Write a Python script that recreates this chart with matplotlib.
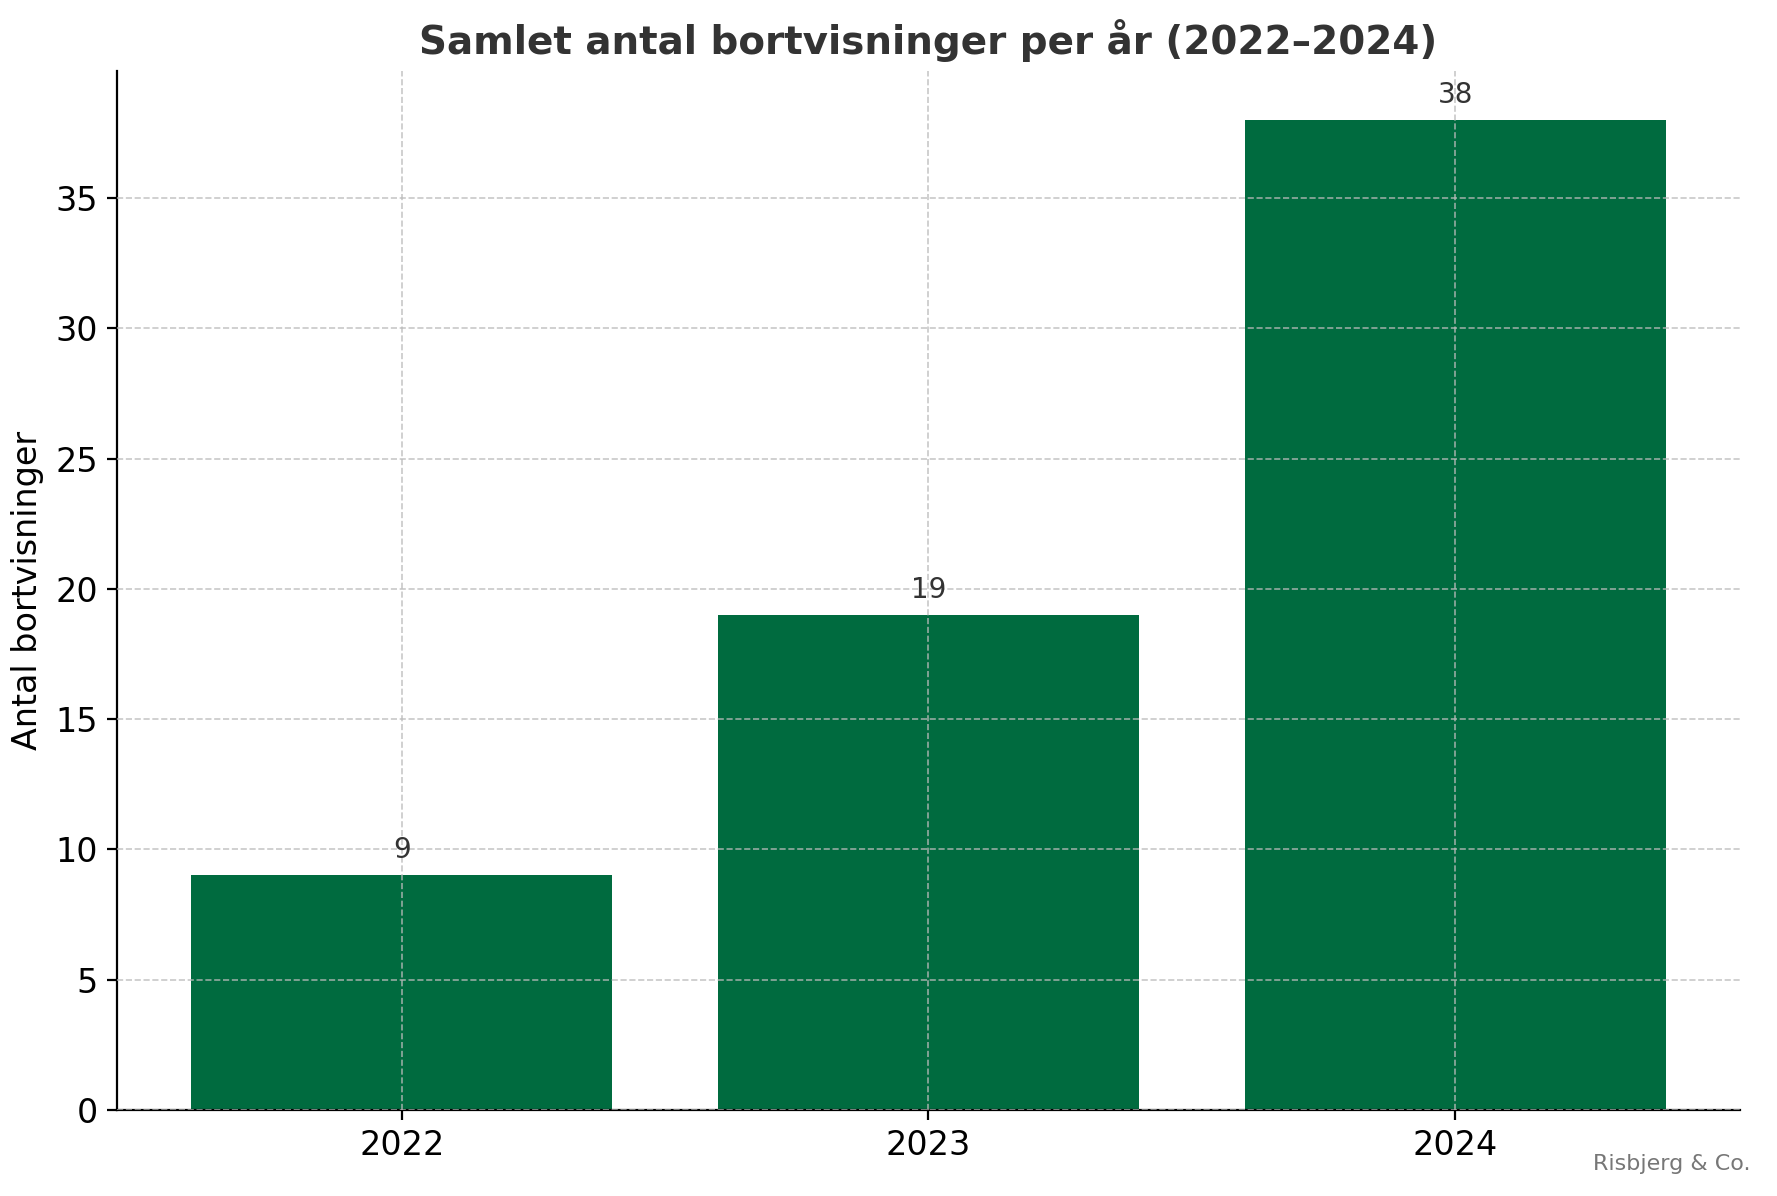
import matplotlib
matplotlib.use("Agg")
import matplotlib.pyplot as plt

years = ["2022", "2023", "2024"]
values = [9, 19, 38]

fig = plt.figure(figsize=(8.885, 5.98), dpi=200)
ax = fig.add_axes([0.066, 0.072, 0.913, 0.869])
x = list(range(len(years)))
bars = ax.bar(x, values, width=0.8, color="#006B3F")
ax.set_xticks(x)
ax.set_xticklabels(years)
ax.set_ylim(0, 39.9)
ax.grid(True, linestyle="--", color="#bbbbbb", linewidth=0.6, alpha=0.8)
ax.set_axisbelow(False)
for s in ["top", "right"]:
    ax.spines[s].set_visible(False)
ax.tick_params(labelsize=12)
ax.set_ylabel("Antal bortvisninger", fontsize=12)
ax.set_title("Samlet antal bortvisninger per år (2022–2024)", fontsize=14,
             fontweight="bold", color="#333333")
for xi, v in zip(x, values):
    ax.annotate(str(v), (xi, v), xytext=(0, 4), textcoords="offset points",
                ha="center", va="bottom", fontsize=10, color="#333333")
fig.text(0.985, 0.018, "Risbjerg & Co.", ha="right", va="bottom",
         fontsize=8, color="#777777")
fig.savefig("out.png", dpi=200)
